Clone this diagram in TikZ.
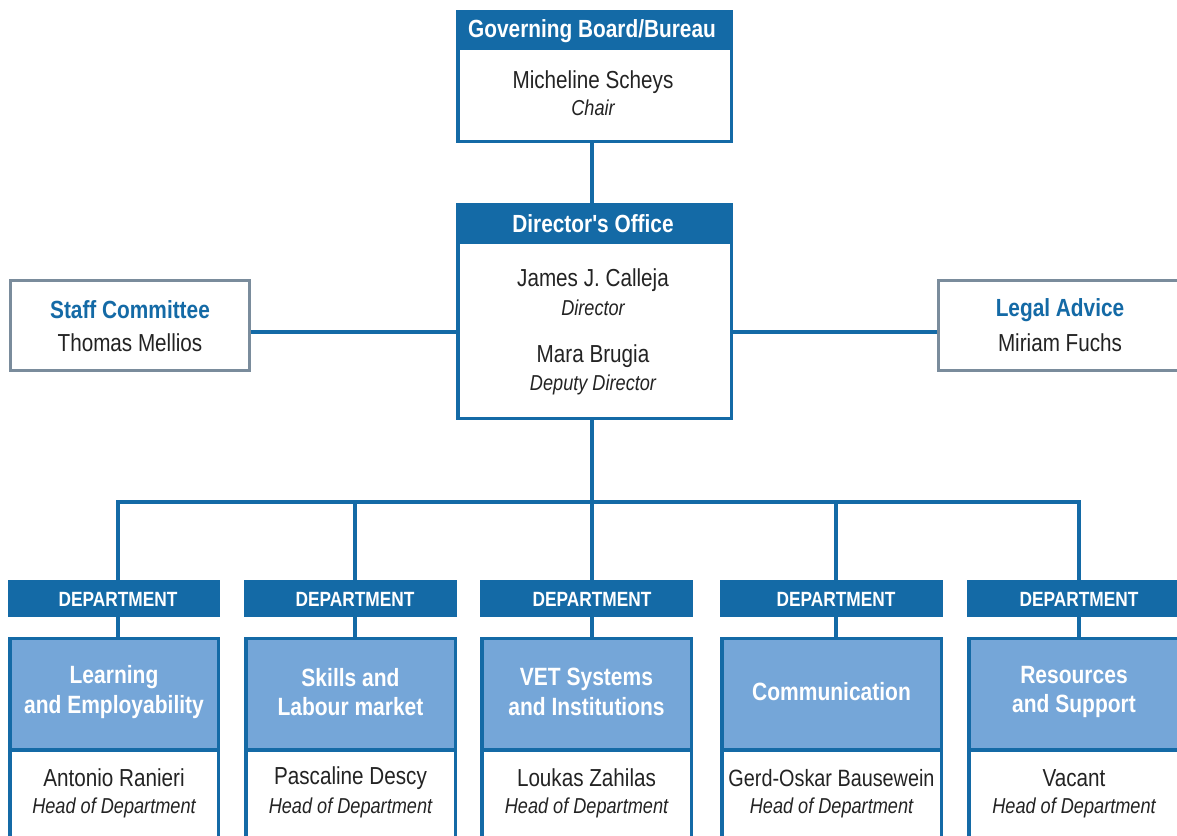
\documentclass[tikz,border=0pt]{standalone}
\usepackage{fontspec}
\setmainfont{Liberation Sans}[FakeStretch=0.84]
\newfontfamily\plainfont{Liberation Sans}[FakeStretch=0.84]
\definecolor{dblue}{RGB}{20,106,166}
\definecolor{lblue}{RGB}{117,166,216}
\definecolor{gborder}{RGB}{122,140,156}
\definecolor{txtc}{RGB}{35,35,35}
\tikzset{
  box/.style={draw=#1, line width=3.5pt, fill=white, inner sep=0pt, rectangle},
  hdr/.style={fill=dblue, inner sep=0pt, rectangle},
  conn/.style={draw=dblue, line width=4pt},
  pname/.style={text=txtc, inner sep=0pt, font=\fontsize{24.6}{28}\selectfont},
  prole/.style={text=txtc, inner sep=0pt, font=\fontsize{21.6}{25}\itshape\selectfont},
  htext/.style={text=white, inner sep=0pt, font=\fontsize{24.8}{28}\bfseries\selectfont},
  dtext/.style={text=white, inner sep=0pt, font=\fontsize{20.6}{24}\bfseries\selectfont},
  ttext/.style={text=white, inner sep=0pt, align=center, font=\fontsize{25}{29.5}\bfseries\selectfont},
  btext/.style={text=dblue, inner sep=0pt, font=\fontsize{24.8}{28}\bfseries\selectfont},
}
\begin{document}
\begin{tikzpicture}[x=1pt,y=-1pt]
\useasboundingbox (0,0) rectangle (1177,835);
\fill[white] (0,0) rectangle (1177,835);

% Governing board
\node[box=dblue, minimum width=273.5pt, minimum height=129.5pt] (gb) at (594.5,76.5) {};
\node[hdr, minimum width=277pt, minimum height=40pt, anchor=north] (gbh) at (594.5,10) {};
\node[htext] (gbt) at (592,31) {Governing Board/Bureau};
\node[pname] (gbn) at (593,82) {Micheline Scheys};
\node[prole] (gbr) at (593,108) {Chair};

% Director's office
\node[box=dblue, minimum width=273.5pt, minimum height=213.5pt] (dir) at (594.5,311.5) {};
\node[hdr, minimum width=277pt, minimum height=41pt, anchor=north] (dirh) at (594.5,203) {};
\node[htext] (dirt) at (593,224) {\plainfont\bfseries Director's Office};
\node[pname] (d1n) at (593,280) {James J. Calleja};
\node[prole] (d1r) at (593,308) {Director};
\node[pname] (d2n) at (593,356) {Mara Brugia};
\node[prole] (d2r) at (593,385) {Deputy Director};

\coordinate (axis) at (592,0);
\draw[conn] (axis |- gb.south) -- (axis |- dirh.north);

% Staff committee & legal advice
\node[box=gborder, line width=3pt, minimum width=239pt, minimum height=90pt] (sc) at (130,325.5) {};
\node[btext] (sct) at (130,310) {Staff Committee};
\node[pname] (scn) at (130,343) {Thomas Mellios};
\node[box=gborder, line width=3pt, minimum width=240pt, minimum height=90pt] (la) at (1058.5,325.5) {};
\node[btext] (lat) at (1060,310) {Legal Advice};
\node[pname] (lan) at (1060,343) {Miriam Fuchs};
\draw[conn] (sc.east |- 0,332) -- (dir.west |- 0,332);
\draw[conn] (dir.east |- 0,332) -- (la.west |- 0,332);

% Bus
\coordinate (bus) at (592,502);
\coordinate (busL) at (118,502);
\coordinate (busR) at (1079,502);
\draw[conn] (axis |- dir.south) -- (bus);
\draw[conn, line cap=rect] (busL) -- (busR);

% Departments
\foreach \i/\a/\b/\c/\title/\person in {
  1/8/220/118/{Learning\\and Employability}/Antonio Ranieri,
  2/244/457/355/{Skills and\\Labour market}/Pascaline Descy,
  3/480/693/592/{VET Systems\\and Institutions}/Loukas Zahilas,
  4/720/943/836/{Communication}/{\fontsize{23.6}{28}\selectfont Gerd-Oskar Bausewein},
  5/967/1181/1079/{Resources\\and Support}/Vacant}{
  \pgfmathsetmacro{\w}{\b-\a}
  \pgfmathsetmacro{\m}{(\a+\b)/2}
  \node[hdr, minimum width=\w pt, minimum height=37pt, anchor=north] (h\i) at (\m,580) {};
  \node[dtext] (ht\i) at (\c,599) {DEPARTMENT};
  \node[box=dblue, minimum width=\w pt-3.5pt, minimum height=221.5pt, anchor=north] (db\i) at (\m,636.75) {};
  \node[box=dblue, fill=lblue, minimum width=\w pt-3.5pt, minimum height=111.5pt, anchor=north] (dt\i) at (\m,636.75) {};
  \node[ttext] (tt\i) at (\m,692) {\title};
  \node[pname] (dn\i) at (\m,778) {\person};
  \node[prole] (dr\i) at (\m,808) {Head of Department};
  \coordinate (bx\i) at (\c,502);
  \draw[conn] (bx\i) -- (bx\i |- h\i.north);
  \draw[conn] (bx\i |- h\i.south) -- (bx\i |- dt\i.north);
}
\end{tikzpicture}
\end{document}
